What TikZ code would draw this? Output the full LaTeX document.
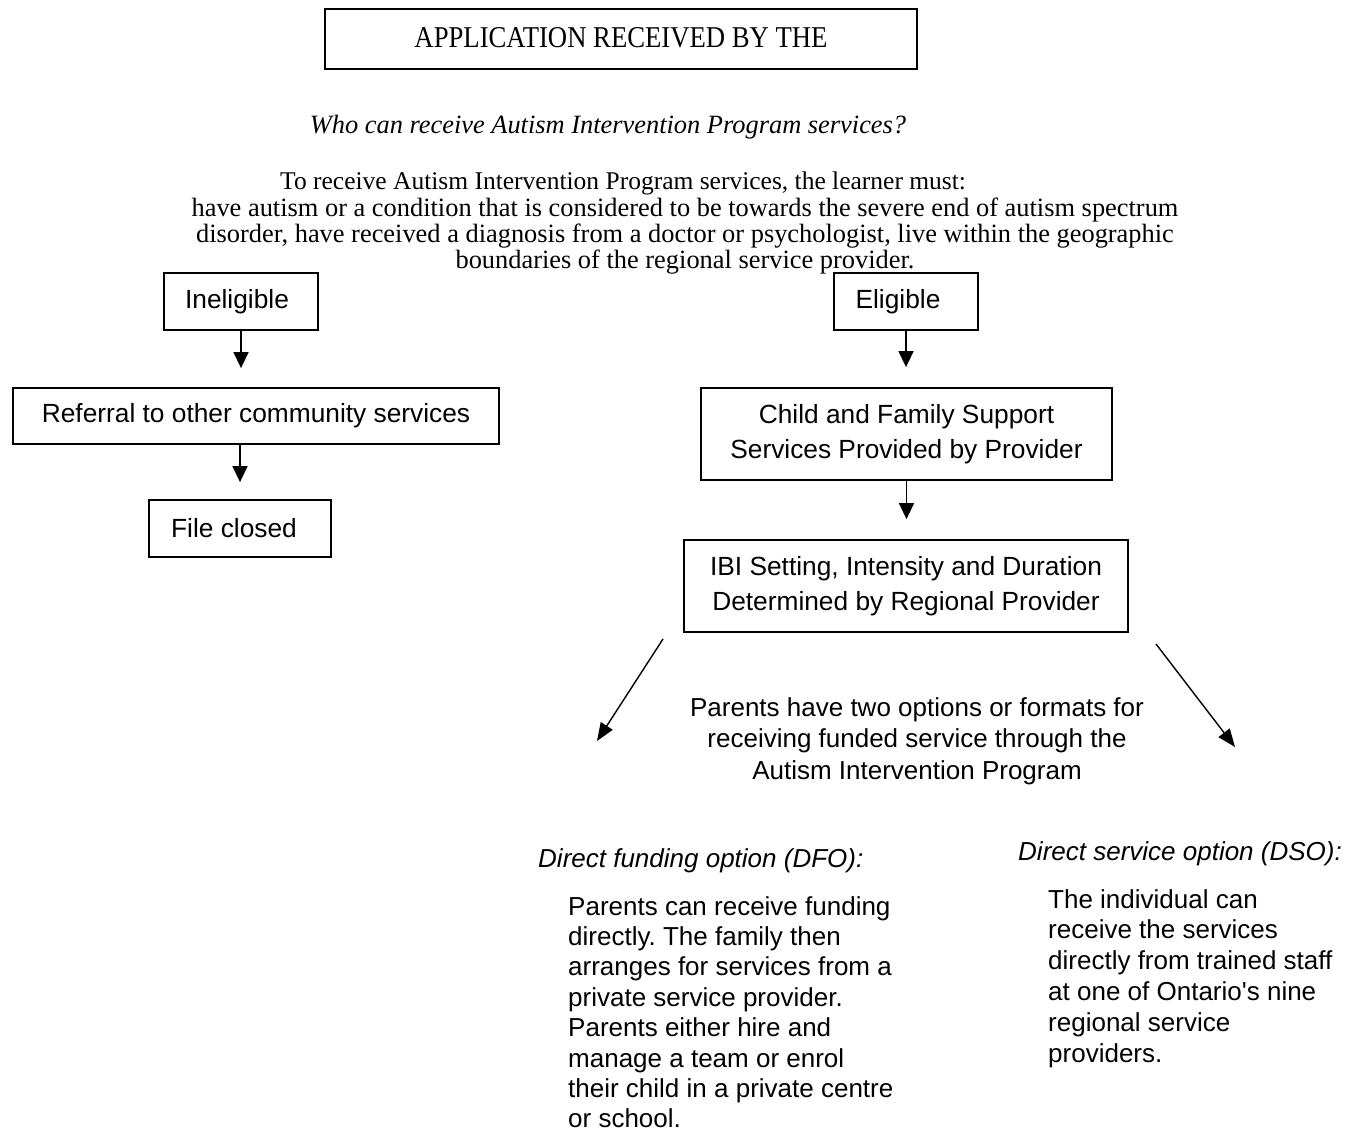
\documentclass[tikz,border=0pt]{standalone}
\usepackage{fontspec}
\usepackage{graphicx}
\setmainfont{Liberation Serif}
\setsansfont{Liberation Sans}
\usetikzlibrary{arrows.meta}
\frenchspacing
\begin{document}
\begin{tikzpicture}[x=1pt,y=-1pt,
  box/.style={draw, line width=1.8pt, inner sep=0pt, align=center,
              font=\sffamily\fontsize{26.3}{35}\selectfont},
  arr/.style={-{Triangle[length=16pt,width=15pt]}, line width=1.5pt},
  diag/.style={-{Triangle[length=18pt,width=14pt]}, line width=1.4pt},
  sanstext/.style={inner sep=0pt, font=\sffamily\fontsize{26}{31.5}\selectfont},
  sansital/.style={inner sep=0pt, font=\sffamily\itshape\fontsize{26}{31.5}\selectfont},
  serif/.style={inner sep=0pt, font=\rmfamily\fontsize{26.4}{26}\selectfont},
  serifital/.style={inner sep=0pt, font=\rmfamily\itshape\fontsize{26.4}{26}\selectfont}]
\useasboundingbox (0,0) rectangle (1364,1131);
\fill[white] (0,0) rectangle (1364,1131);

% title
\node[box, minimum width=592pt, minimum height=60pt] (title) at (621,39)
  {\raisebox{2pt}{\resizebox{413pt}{20pt}{\rmfamily APPLICATION RECEIVED BY THE}}};

\node[serifital, anchor=base] (q) at (608,134) {Who can receive Autism Intervention Program services?};

\node[serif, anchor=base west, font=\rmfamily\fontsize{25.5}{26}\selectfont] (l1) at (280,190) {To receive Autism Intervention Program services, the learner must:};
\node[serif, anchor=base] (l2) at (685,217) {have autism or a condition that is considered to be towards the severe end of autism spectrum};
\node[serif, anchor=base] (l3) at (685,243) {disorder, have received a diagnosis from a doctor or psychologist, live within the geographic};
\node[serif, anchor=base] (l4) at (685,269) {boundaries of the regional service provider.};

% left branch
\node[box, minimum width=154pt, minimum height=57pt] (inel) at (241,301.5) {\hspace*{-8pt}Ineligible};
\node[box, minimum width=486pt, minimum height=56pt] (ref) at (256,416) {Referral to other community services};
\node[box, minimum width=182pt, minimum height=57pt] (file) at (240,528.5) {\hspace*{-12pt}File closed};

% right branch
\node[box, minimum width=144pt, minimum height=57pt] (elig) at (906,301.5) {\hspace*{-16pt}Eligible};
\node[box, minimum width=411pt, minimum height=92pt] (child) at (906.5,434)
  {Child and Family Support\\Services Provided by Provider};
\node[box, minimum width=444pt, minimum height=92pt] (ibi) at (906,586)
  {IBI Setting, Intensity and Duration\\Determined by Regional Provider};

\draw[arr, shorten >=19pt] (inel.south) -- (inel.south |- ref.north);
\draw[arr, shorten >=17pt] (file.north |- ref.south) -- (file.north);
\draw[arr, shorten >=20pt] (elig.south) -- (elig.south |- child.north);
\draw[arr, shorten >=20pt] (child.south) -- (child.south |- ibi.north);

\coordinate (dls) at (663,639);
\coordinate (dle) at (597,741);
\coordinate (drs) at (1156,644);
\coordinate (dre) at (1235,747);
\draw[diag] (dls) -- (dle);
\draw[diag] (drs) -- (dre);

\node[sanstext, anchor=north, align=center] (parents) at (917,697)
  {Parents have two options or formats for\\receiving funded service through the\\Autism Intervention Program};

\node[sansital, anchor=base west] (dfoh) at (538,867) {Direct funding option (DFO):};
\node[sanstext, anchor=north west, align=left, font=\sffamily\fontsize{26}{30.4}\selectfont] (dfo) at (568,896)
  {Parents can receive funding\\directly. The family then\\arranges for services from a\\private service provider.\\Parents either hire and\\manage a team or enrol\\their child in a private centre\\or school.};

\node[sansital, anchor=base west] (dsoh) at (1018,860) {Direct service option (DSO):};
\node[sanstext, anchor=north west, align=left, font=\sffamily\fontsize{26}{30.8}\selectfont] (dso) at (1048,889)
  {The individual can\\receive the services\\directly from trained staff\\at one of Ontario\textquotesingle s nine\\regional service\\providers.};
\end{tikzpicture}
\end{document}
